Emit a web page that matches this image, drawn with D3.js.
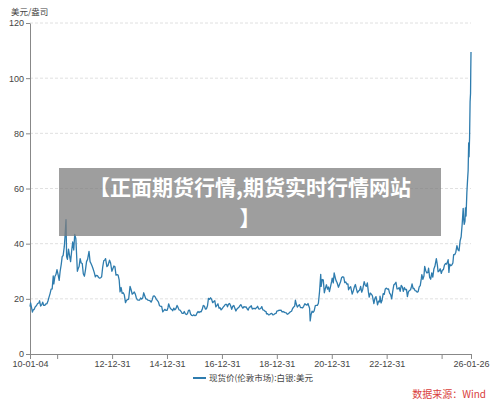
<!DOCTYPE html>
<html>
<head>
<meta charset="utf-8">
<script src="https://cdn.jsdelivr.net/npm/d3@7"></script>
<style>
  body { margin: 0; background: #fff; }
  svg { font-family: "Noto Sans CJK SC", "Noto Sans", sans-serif; }
</style>
</head>
<body>
<script>
var svg_width  = 500;
var svg_height = 406;

// spot silver, London, USD/oz
var priceDates = [
  "2010-01-04","2010-01-12","2010-01-28","2010-02-05","2010-02-16","2010-03-01","2010-03-15","2010-04-01","2010-04-15","2010-05-03","2010-05-12","2010-05-25","2010-06-08","2010-06-22","2010-07-06","2010-07-20","2010-08-03","2010-08-17","2010-08-31","2010-09-14","2010-09-28","2010-10-12","2010-10-26","2010-11-09","2010-11-17","2010-12-01","2010-12-15","2010-12-29",
  "2011-01-12","2011-01-27","2011-02-09","2011-02-24","2011-03-08","2011-03-21","2011-04-05","2011-04-15","2011-04-28","2011-05-06","2011-05-17","2011-05-31","2011-06-14","2011-06-28","2011-07-12","2011-07-26","2011-08-09","2011-08-22","2011-09-06","2011-09-26","2011-10-05","2011-10-19","2011-11-02","2011-11-16","2011-11-30","2011-12-14","2011-12-29",
  "2012-01-12","2012-01-26","2012-02-09","2012-02-28","2012-03-13","2012-03-27","2012-04-10","2012-04-24","2012-05-08","2012-05-22","2012-06-05","2012-06-19","2012-07-03","2012-07-17","2012-07-31","2012-08-14","2012-08-28","2012-09-11","2012-09-25","2012-10-05","2012-10-23","2012-11-06","2012-11-27","2012-12-11","2012-12-28",
  "2013-01-10","2013-01-24","2013-02-07","2013-02-21","2013-03-07","2013-03-21","2013-04-04","2013-04-16","2013-04-30","2013-05-14","2013-05-28","2013-06-11","2013-06-27","2013-07-11","2013-07-25","2013-08-08","2013-08-27","2013-09-10","2013-09-24","2013-10-08","2013-10-22","2013-11-05","2013-11-19","2013-12-03","2013-12-17","2013-12-31",
  "2014-01-14","2014-01-28","2014-02-11","2014-02-24","2014-03-10","2014-03-24","2014-04-07","2014-04-22","2014-05-06","2014-05-20","2014-06-03","2014-06-17","2014-07-01","2014-07-15","2014-07-29","2014-08-12","2014-08-26","2014-09-09","2014-09-23","2014-10-07","2014-10-21","2014-11-05","2014-11-18","2014-12-02","2014-12-16","2014-12-31",
  "2015-01-13","2015-01-22","2015-02-03","2015-02-17","2015-03-03","2015-03-17","2015-03-31","2015-04-14","2015-04-28","2015-05-14","2015-05-27","2015-06-09","2015-06-23","2015-07-07","2015-07-21","2015-08-04","2015-08-18","2015-09-01","2015-09-15","2015-09-29","2015-10-13","2015-10-27","2015-11-10","2015-11-24","2015-12-08","2015-12-22",
  "2016-01-06","2016-01-20","2016-02-03","2016-02-17","2016-03-02","2016-03-16","2016-03-30","2016-04-13","2016-04-27","2016-05-11","2016-05-25","2016-06-08","2016-06-22","2016-07-05","2016-07-19","2016-08-02","2016-08-16","2016-08-30","2016-09-13","2016-09-27","2016-10-11","2016-10-25","2016-11-08","2016-11-22","2016-12-06","2016-12-20",
  "2017-01-05","2017-01-19","2017-02-02","2017-02-16","2017-03-02","2017-03-15","2017-03-29","2017-04-12","2017-04-26","2017-05-10","2017-05-24","2017-06-07","2017-06-21","2017-07-05","2017-07-19","2017-08-02","2017-08-16","2017-08-30","2017-09-08","2017-09-22","2017-10-06","2017-10-20","2017-11-03","2017-11-17","2017-12-01","2017-12-15","2017-12-29",
  "2018-01-12","2018-01-25","2018-02-08","2018-02-22","2018-03-08","2018-03-22","2018-04-11","2018-04-19","2018-05-03","2018-05-17","2018-05-31","2018-06-14","2018-06-28","2018-07-12","2018-07-26","2018-08-09","2018-08-16","2018-08-30","2018-09-13","2018-09-27","2018-10-11","2018-10-25","2018-11-08","2018-11-22","2018-12-06","2018-12-20","2018-12-31",
  "2019-01-14","2019-01-28","2019-02-11","2019-02-25","2019-03-11","2019-03-25","2019-04-08","2019-04-22","2019-05-06","2019-05-20","2019-06-03","2019-06-17","2019-07-01","2019-07-15","2019-07-29","2019-08-12","2019-08-26","2019-09-04","2019-09-16","2019-09-30","2019-10-14","2019-10-28","2019-11-11","2019-11-25","2019-12-09","2019-12-23",
  "2020-01-08","2020-01-22","2020-02-05","2020-02-19","2020-03-04","2020-03-11","2020-03-19","2020-03-30","2020-04-13","2020-04-27","2020-05-11","2020-05-26","2020-06-08","2020-06-22","2020-07-06","2020-07-22","2020-08-06","2020-08-12","2020-08-26","2020-09-09","2020-09-23","2020-10-07","2020-10-21","2020-11-04","2020-11-18","2020-11-30","2020-12-14","2020-12-30",
  "2021-01-06","2021-01-20","2021-02-01","2021-02-16","2021-02-26","2021-03-11","2021-03-30","2021-04-13","2021-04-27","2021-05-11","2021-05-25","2021-06-08","2021-06-22","2021-07-06","2021-07-20","2021-08-03","2021-08-11","2021-08-25","2021-09-08","2021-09-29","2021-10-13","2021-10-27","2021-11-10","2021-11-24","2021-12-08","2021-12-22",
  "2022-01-05","2022-01-19","2022-02-02","2022-02-16","2022-03-07","2022-03-21","2022-04-04","2022-04-18","2022-05-02","2022-05-13","2022-05-27","2022-06-10","2022-06-24","2022-07-08","2022-07-14","2022-07-28","2022-08-11","2022-08-25","2022-09-01","2022-09-15","2022-09-29","2022-10-04","2022-10-18","2022-11-01","2022-11-15","2022-11-29","2022-12-13","2022-12-28",
  "2023-01-11","2023-01-25","2023-02-08","2023-02-22","2023-03-08","2023-03-22","2023-04-05","2023-04-19","2023-05-04","2023-05-18","2023-06-01","2023-06-15","2023-06-29","2023-07-13","2023-07-27","2023-08-10","2023-08-24","2023-09-07","2023-09-21","2023-10-03","2023-10-17","2023-10-31","2023-11-14","2023-11-28","2023-12-04","2023-12-18","2023-12-29",
  "2024-01-12","2024-01-26","2024-02-09","2024-02-23","2024-03-08","2024-03-22","2024-04-05","2024-04-12","2024-04-26","2024-05-10","2024-05-20","2024-06-03","2024-06-17","2024-07-01","2024-07-11","2024-07-25","2024-08-08","2024-08-22","2024-09-05","2024-09-19","2024-10-03","2024-10-22","2024-11-05","2024-11-14","2024-11-28","2024-12-12","2024-12-27",
  "2025-01-10","2025-01-24","2025-02-07","2025-02-21","2025-03-07","2025-03-21","2025-03-28","2025-04-07","2025-04-18","2025-05-02","2025-05-16","2025-05-30","2025-06-09","2025-06-23","2025-07-08","2025-07-23","2025-08-06","2025-08-20","2025-09-03","2025-09-17","2025-10-01","2025-10-14","2025-10-22","2025-10-28","2025-11-07","2025-11-13","2025-11-21","2025-12-02","2025-12-12","2025-12-19","2025-12-26","2025-12-29","2025-12-31",
  "2026-01-07","2026-01-14","2026-01-20","2026-01-23","2026-01-26"
];
var priceValues = [
  17.2,18.5,16.4,15.2,16.0,16.2,17.1,17.6,18.3,18.5,19.3,17.4,17.8,18.8,17.6,17.6,18.2,18.2,19.2,20.6,21.9,23.5,23.6,28.3,25.4,28.1,28.8,30.6,
  28.9,26.7,30.0,32.6,35.3,35.7,38.9,42.7,48.7,35.3,34.3,38.0,35.7,33.5,37.3,40.6,37.7,43.4,41.8,30.0,30.8,31.7,34.6,33.0,32.8,29.1,28.2,
  30.5,33.5,34.3,37.2,33.5,32.7,31.8,30.7,29.5,28.0,28.5,28.4,27.8,27.5,27.6,28.0,31.5,33.8,34.1,34.6,31.7,32.1,34.0,33.0,30.0,
  30.9,31.9,31.6,28.6,28.8,28.6,26.9,22.5,24.1,22.0,22.2,21.5,18.6,19.5,19.7,19.9,24.5,23.3,21.7,22.0,22.5,21.7,20.3,19.6,19.5,19.5,
  20.3,19.9,20.3,22.2,21.1,20.0,19.9,19.5,19.4,19.3,18.8,19.6,21.0,21.1,20.6,19.8,19.4,18.8,17.5,17.3,17.3,15.3,15.7,16.2,15.8,15.8,
  16.8,18.2,17.2,16.4,16.2,15.7,16.6,16.0,16.4,17.6,16.9,16.0,15.9,15.4,14.7,14.7,15.4,14.6,14.3,14.6,15.8,15.9,14.5,14.0,13.9,14.2,
  13.9,14.0,14.8,15.4,15.0,15.4,15.3,16.2,17.6,17.4,16.3,16.4,17.5,20.2,19.8,20.4,19.8,18.6,19.0,19.3,17.1,17.6,18.2,16.6,16.8,16.0,
  16.5,17.1,17.5,18.0,18.0,17.1,18.1,18.3,17.5,16.2,17.3,17.6,16.6,15.6,16.3,16.7,17.0,17.6,17.9,17.2,16.6,17.2,17.0,17.1,16.4,15.9,16.9,
  17.1,17.5,16.3,16.5,16.5,16.4,17.0,17.3,16.4,16.3,16.5,17.2,16.0,15.9,15.5,15.4,14.6,14.6,14.2,14.3,14.6,14.7,14.2,14.3,14.6,14.7,15.5,
  15.6,15.9,15.8,15.9,15.3,15.4,15.2,15.0,14.9,14.4,14.6,15.0,15.3,15.5,16.5,17.0,17.4,19.5,18.1,17.0,17.5,17.9,16.8,16.8,16.7,17.3,
  18.2,17.9,17.7,18.3,17.1,16.6,12.0,14.2,15.5,15.1,15.6,17.5,17.6,17.6,18.4,22.8,28.9,24.5,27.0,26.9,22.2,23.8,25.1,23.5,24.3,22.6,24.3,26.4,
  27.5,25.8,29.4,27.6,26.6,25.9,24.2,25.2,26.2,27.7,28.0,27.9,25.9,26.1,25.3,25.4,23.3,24.0,24.4,21.7,22.8,24.3,25.2,23.6,22.2,22.8,
  23.1,24.5,22.4,23.5,26.2,25.0,24.5,25.8,22.5,20.6,22.1,21.7,21.2,19.2,18.3,20.2,20.8,18.9,17.8,19.2,18.9,21.0,18.5,19.6,21.9,21.6,23.6,23.9,
  23.5,23.6,22.1,21.5,20.0,22.7,25.0,25.4,26.0,23.6,23.6,24.1,22.7,24.9,24.3,22.7,24.1,23.3,23.4,20.8,22.6,23.0,23.3,24.6,25.4,23.7,23.8,
  23.0,22.9,22.4,22.6,24.3,24.8,27.3,28.8,27.1,28.3,31.8,30.2,29.4,29.5,31.1,27.8,27.1,29.4,27.9,30.8,31.8,34.6,32.2,29.8,30.1,30.9,29.2,
  30.4,30.6,32.2,32.8,32.6,33.5,34.2,29.6,32.6,32.0,32.3,33.0,36.0,36.0,36.9,39.3,37.8,37.4,41.0,42.5,47.2,52.8,48.5,47.0,48.2,53.0,50.0,58.5,63.5,66.5,76.5,73.5,71.5,
  78.5,91.5,94.5,103.0,109.5
];

var yTicks = [0, 20, 40, 60, 80, 100, 120];
var xTickDates  = ["2010-01-04","2010-12-31","2012-12-31","2014-12-31","2016-12-31","2018-12-31","2020-12-31","2022-12-31","2024-12-31","2026-01-26"];
var xTickLabels = ["10-01-04","","12-12-31","14-12-31","16-12-31","18-12-31","20-12-31","22-12-31","","26-01-26"];

var unitLabel   = "美元/盎司";
var seriesName  = "现货价(伦敦市场):白银:美元";
var sourceLabel = "数据来源：Wind";
var overlayLines = ["【正面期货行情,期货实时行情网站", "】"];

var parseDate = d3.timeParse("%Y-%m-%d");
var data = priceDates.map(function(d, i) {
  return {date: parseDate(d), value: priceValues[i]};
});

var svg = d3.select('body').append('svg')
            .attr('width', svg_width)
            .attr('height', svg_height);

var x = d3.scaleTime()
          .domain([parseDate(xTickDates[0]), parseDate(xTickDates[xTickDates.length - 1])])
          .range([30, 471]);
var y = d3.scaleLinear()
          .domain([0, 120])
          .range([354, 23]);

// dashed grid
svg.append("g")
   .selectAll("line")
   .data(yTicks.filter(d => d > 0))
   .enter().append("line")
   .attr("x1", 30).attr("x2", 471)
   .attr("y1", d => y(d)).attr("y2", d => y(d))
   .attr("stroke", "#e0e0e0")
   .attr("stroke-dasharray", "3,2");

// y axis
var yAxis = svg.append("g")
   .attr("transform", "translate(30,0)")
   .call(d3.axisLeft(y).tickValues(yTicks).tickSize(4).tickSizeOuter(0).tickPadding(2));
yAxis.select(".domain").attr("stroke", "#888");
yAxis.selectAll(".tick line").attr("stroke", "#888");
yAxis.selectAll("text").attr("fill", "#444").style("font-size", "9px");

// x axis
var xAxis = svg.append("g")
   .attr("transform", "translate(0,354)")
   .call(d3.axisBottom(x)
           .tickValues(xTickDates.map(parseDate))
           .tickFormat((d, i) => xTickLabels[i])
           .tickSize(5).tickSizeOuter(0).tickPadding(2));
xAxis.select(".domain").attr("stroke", "#888");
xAxis.selectAll(".tick line").attr("stroke", "#888");
xAxis.selectAll("text").attr("fill", "#444").style("font-size", "9px");

// unit
svg.append("text")
   .attr("x", 11).attr("y", 15)
   .attr("fill", "#444")
   .style("font-size", "8.5px")
   .text(unitLabel);

// price line
var line = d3.line()
   .x(d => x(d.date))
   .y(d => y(d.value));

svg.append("path")
   .datum(data)
   .attr("fill", "none")
   .attr("stroke", "#2e7cae")
   .attr("stroke-width", 1.3)
   .attr("stroke-linejoin", "round")
   .attr("d", line);

// legend
svg.append("line")
   .attr("x1", 193).attr("x2", 206)
   .attr("y1", 378).attr("y2", 378)
   .attr("stroke", "#2e7cae")
   .attr("stroke-width", 2);
svg.append("text")
   .attr("x", 209).attr("y", 381)
   .attr("fill", "#444")
   .style("font-size", "8.5px")
   .text(seriesName);

// source
svg.append("text")
   .attr("x", 486).attr("y", 398)
   .attr("text-anchor", "end")
   .attr("fill", "#d9403c")
   .style("font-size", "10px")
   .text(sourceLabel);

// grey title overlay
svg.append("rect")
   .attr("x", 59).attr("y", 168)
   .attr("width", 382).attr("height", 68)
   .attr("fill", "rgba(125,125,125,0.75)");

svg.append("g")
   .selectAll("text")
   .data(overlayLines)
   .enter().append("text")
   .attr("x", 250)
   .attr("y", (d, i) => 195 + i * 31)
   .attr("text-anchor", "middle")
   .attr("fill", "#fff")
   .style("font-size", "21px")
   .style("font-weight", "bold")
   .text(d => d);
</script>
</body>
</html>
